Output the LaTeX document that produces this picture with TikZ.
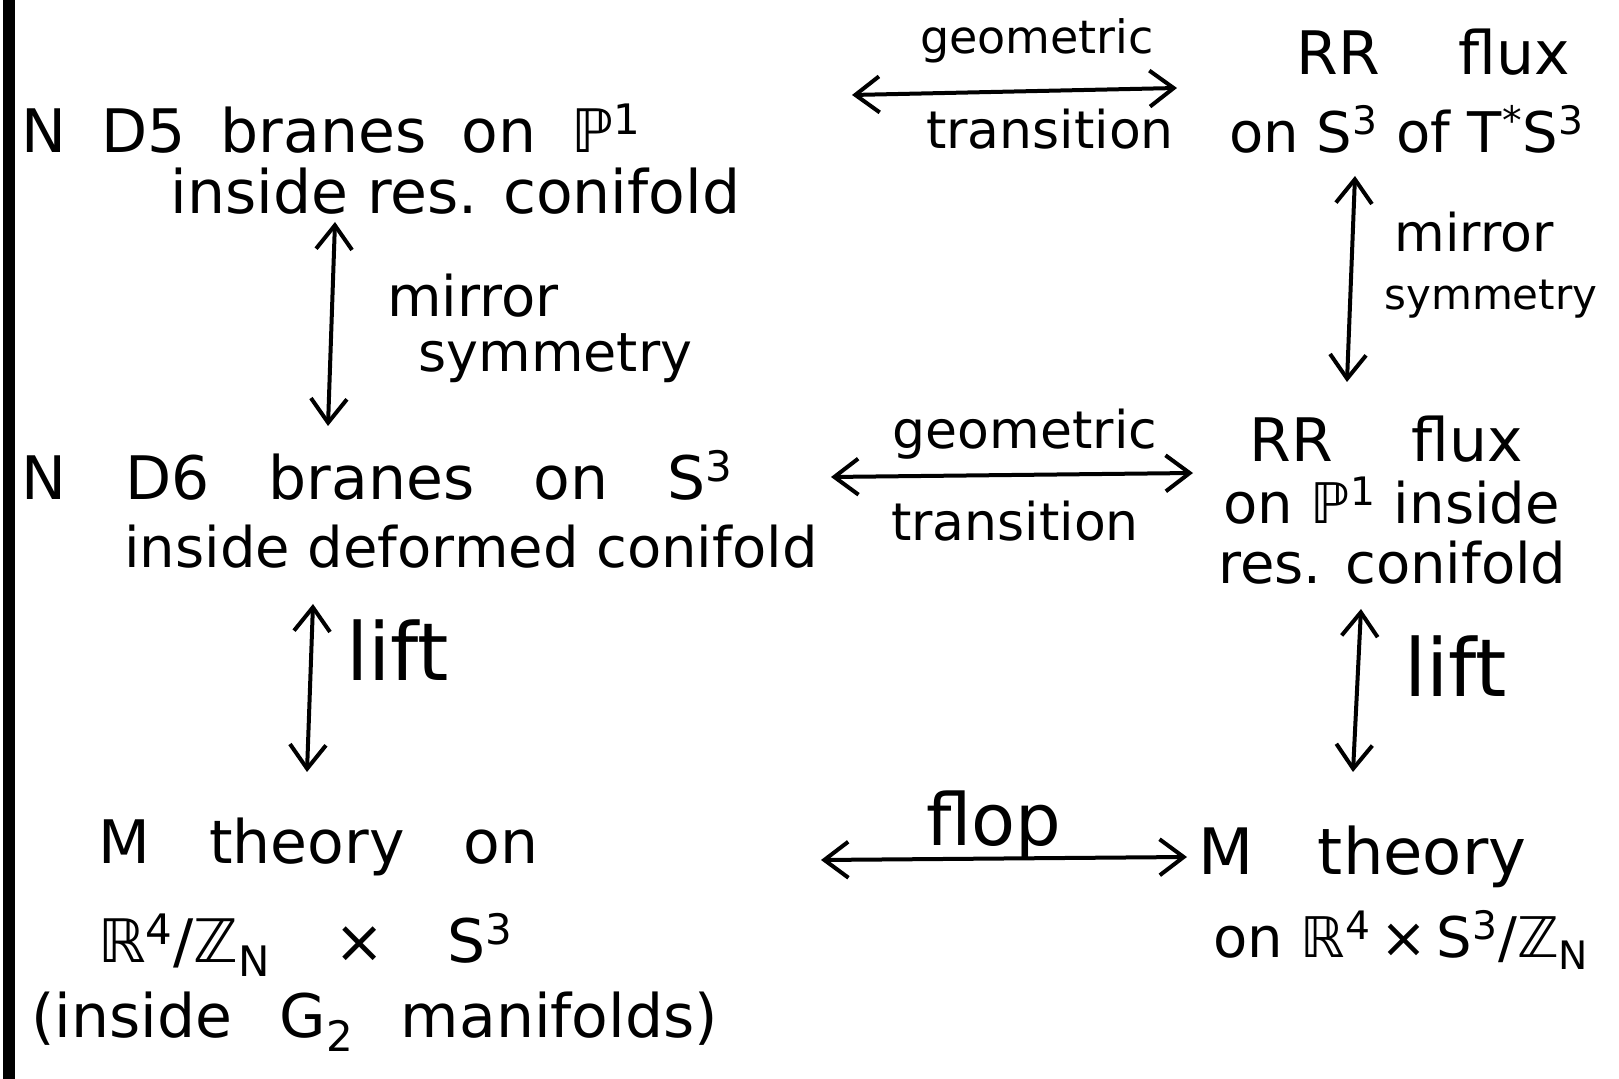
\documentclass[tikz,border=0pt]{standalone}
\usepackage{fontspec}
\setmainfont{DejaVu Sans}
\usetikzlibrary{arrows.meta}
\newcommand{\wsp}[1]{\hspace{#1}}
\begin{document}
\begin{tikzpicture}[x=0.5pt,y=-0.5pt]
\tikzset{
  hw/.style={inner sep=0pt, anchor=west, font=\fontsize{30}{32}\selectfont},
  hwsmall/.style={hw, font=\fontsize{28}{30}\selectfont},
  lbl/.style={inner sep=0pt, font=\fontsize{25}{27}\selectfont},
  sidelbl/.style={lbl, anchor=west},
  biarrow/.style={line width=2pt, line cap=round,
    {Straight Barb[length=12pt,width=18pt,line width=2pt]}-{Straight Barb[length=12pt,width=18pt,line width=2pt]}},
}
\useasboundingbox (0,0) rectangle (1619,1079);
% page margin bar
\fill[black] (3,0) rectangle (15,1079);

% upper left: D5 branes
\node[hw] (a1) at (21,129) {N\wsp{8pt} D5\wsp{8pt} branes\wsp{8pt} on\wsp{8pt} ℙ\textsuperscript{1}};
\node[hw] (a2) at (170,191) {inside res. conifold};

% upper right: RR flux on S^3
\node[hw] (b1) at (1296,52) {RR\wsp{30pt} flux};
\node[hwsmall] (b2) at (1229,129) {on S\textsuperscript{3} of T\textsuperscript{*}S\textsuperscript{3}};

% middle left: D6 branes
\node[hw] (c1) at (21,475) {N\wsp{20pt} D6\wsp{20pt} branes\wsp{20pt} on\wsp{20pt} S\textsuperscript{3}};
\node[hwsmall] (c2) at (124,547) {inside deformed conifold};

% middle right: RR flux on P^1
\node[hw] (d1) at (1249,439) {RR\wsp{30pt} flux};
\node[hwsmall] (d2) at (1223,501) {on ℙ\textsuperscript{1} inside};
\node[hwsmall] (d3) at (1218,563) {res. conifold};

% lower left: M theory on R^4/Z_N x S^3
\node[hw] (e1) at (98,847) {M\wsp{20pt} theory\wsp{20pt} on};
\node[hw] (e2) at (98,945) {ℝ\textsuperscript{4}/ℤ\textsubscript{N}\wsp{22pt} ×\wsp{22pt} S\textsuperscript{3}};
\node[hw] (e3) at (31,1022) {(inside\wsp{14pt} G\textsubscript{2}\wsp{14pt} manifolds)};

% lower right: M theory on R^4 x S^3/Z_N
\node[hw, font=\fontsize{32}{34}\selectfont] (f1) at (1198,857) {M\wsp{22pt} theory};
\node[hwsmall] (f2) at (1213,940) {on ℝ\textsuperscript{4}\,×\,S\textsuperscript{3}/ℤ\textsubscript{N}};

% horizontal transitions
\coordinate (t1l) at (852,95);  \coordinate (t1r) at (1177,88);
\coordinate (t2l) at (831,477); \coordinate (t2r) at (1193,473);
\coordinate (t3l) at (821,860); \coordinate (t3r) at (1187,857);
\node[lbl, font=\fontsize{23}{25}\selectfont] (g1) at (1037,41) {geometric};
\node[lbl, font=\fontsize{26}{28}\selectfont] (h1) at (1050,129) {transition};
\node[lbl, font=\fontsize{26}{28}\selectfont] (g2) at (1025,434) {geometric};
\node[lbl, font=\fontsize{26}{28}\selectfont] (h2) at (1015,521) {transition};
\node[lbl, font=\fontsize{36}{38}\selectfont] (fl) at (994,826) {flop};
\draw[biarrow] (t1l) -- (t1r);
\draw[biarrow] (t2l) -- (t2r);
\draw[biarrow] (t3l) -- (t3r);

% vertical dualities
\coordinate (m1t) at (335,222);  \coordinate (m1b) at (328,426);
\coordinate (m2t) at (1355,176); \coordinate (m2b) at (1347,382);
\coordinate (l1t) at (313,604);  \coordinate (l1b) at (307,772);
\coordinate (l2t) at (1361,609); \coordinate (l2b) at (1353,772);
\draw[biarrow] (m1t) -- (m1b);
\draw[biarrow] (m2t) -- (m2b);
\draw[biarrow] (l1t) -- (l1b);
\draw[biarrow] (l2t) -- (l2b);
\node[sidelbl, font=\fontsize{28}{30}\selectfont] (ml1) at (387,296) {mirror};
\node[sidelbl, font=\fontsize{27}{29}\selectfont] (ms1) at (418,358) {symmetry};
\node[sidelbl, font=\fontsize{26}{28}\selectfont] (ml2) at (1394,232) {mirror};
\node[sidelbl, font=\fontsize{21}{23}\selectfont] (ms2) at (1384,299) {symmetry};
\node[sidelbl, font=\fontsize{40}{42}\selectfont] (lf1) at (346,650) {lift};
\node[sidelbl, font=\fontsize{40}{42}\selectfont] (lf2) at (1404,666) {lift};
\end{tikzpicture}
\end{document}
